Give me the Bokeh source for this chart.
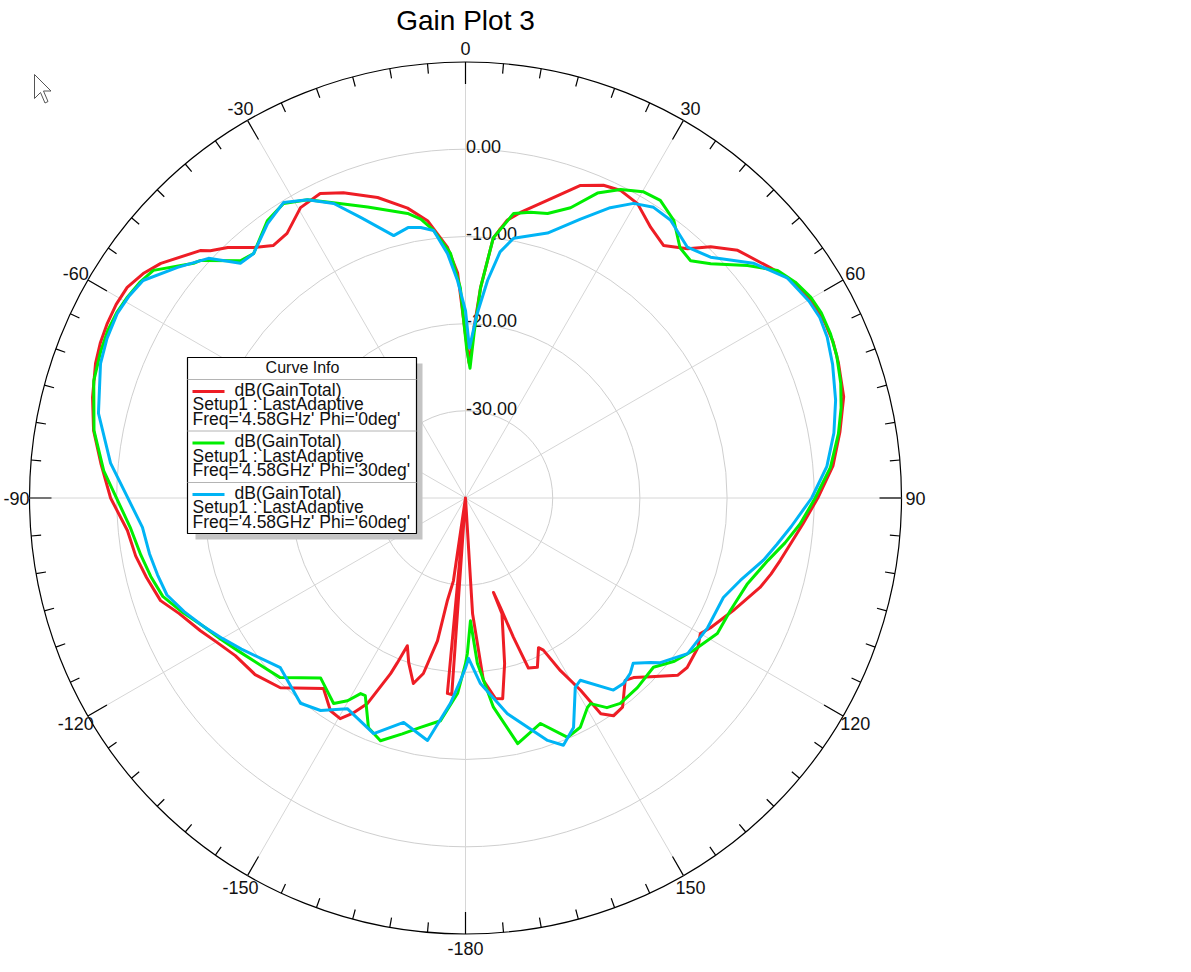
import numpy as np
from bokeh.plotting import figure
from bokeh.models import Range1d
from bokeh.core.properties import value
from bokeh.embed import file_html
from bokeh.resources import INLINE

# ---------------- data (angle in deg, gain in dB) ----------------
red_theta = [-180, -178, -176, -174.7, -173.2, -171.7, -170, -168.9, -166.5, -164.3, -161, -158.5, -157.5,
             -156.9, -154.5, -152.3, -150.4, -147.6, -143.3, -135.7, -130, -124.4, -120, -116.6, -112,
             -108.6, -104, -100, -95.5, -90, -84.6, -79.7, -74.9, -70, -67, -64, -61, -58.1, -55,
             -52.4, -47, -45.9, -43.5,
             -40.2, -37.3, -34, -29.6, -25.5, -21.8, -16.3, -11.3, -7.8, -4.1, -2, -0.6, 1.5, 3,
             4.1, 6.1, 8.5, 10.9, 16.3, 20.2, 23.8, 26.8, 30.3, 34.4, 38.1, 41.7, 44.3, 47.7, 52.9,
             55.5, 58, 61, 64, 67, 70, 75, 80, 85, 90, 94.4, 97.5, 101.2, 104, 106.9, 112.8, 117.9,
             120, 122.8, 127.4, 129.9,
             134, 136.9, 138.8, 143.1, 145.8, 147.9, 149.1, 151.2, 152.9, 154, 157, 159.7, 161,
             162.3, 163.5, 162.5, 166.7, 169.5, 171.5, 174.4, 176.5, 178, 180]
red_db = [-40, -40, -17.4, -17.5, -40, -30.4, -28.1, -23.3, -19.3, -17.9, -20, -21.8, -19.5,
          -18.1, -13.9, -12.1, -10.9, -11.1, -12.75, -9.6, -8.5, -8.0, -7.0, -6.0, -4.6,
          -3.1, -2.3, -1.6, -1.05, 0.7, 2.0, 3.35, 4.3, 5.15, 5.5, 5.7, 5.8, 5.7, 5.0,
          4.1, 1.6, 0.75, -0.4,
          -2.4, -3.6, -3.4, -1.7, -1.3, -2.3, -4.1, -6.1, -7.9, -11.2, -14.2, -19.6, -24.5, -20,
          -15.8, -10.0, -7.8, -6.65, -4.1, -1.8, -0.8, -0.5, -0.9, -2.4, -3.2, -1.7, 0.25, 2.2, 3.8,
          4.7, 5.3, 5.7, 5.85, 5.8, 5.5, 4.9, 3.6, 2.3, 0.4, -1.2, -2.2, -3.2, -3.9, -4.7, -6.7, -8.2,
          -8.9, -8.3, -8.0, -8.3,
          -10.5, -11.8, -12.2, -10.0, -9.8, -10.8, -14.3, -17.4, -20.4, -20.9, -18.9, -19.2, -23.1,
          -26.8, -28.7, -26.1, -20.5, -16.6, -16.75, -19.0, -26.7, -40, -40]

green_theta = [-180, -177.7, -173.6, -168.9, -165, -160.7, -157.1, -153.1, -151.8, -149.8, -147.3,
               -141.2, -134.1, -130, -124, -120, -116, -112, -108, -104, -100, -95, -85.7, -79.7, -72.5,
               -68, -64.9, -62, -59.3, -56.5,
               -53.9, -49.2, -48.1, -43.5, -40.9, -35.5, -31.7, -27.9, -24.1, -18.6, -11.5, -9.1,
               -6.8, -3.5, -1.4, -0.6, 0.5, 2, 3, 4.1, 6.1, 9.6, 12.8, 16.1, 19.9, 23.4, 26.7, 30.1,
               33.2, 36.9, 40.6, 43.5, 46.3, 50.5, 53.9, 56.8, 59.8, 62.5, 65.7, 69, 73, 76.5, 80.2, 85.2,
               90, 94.4, 98, 101.7,
               106.9, 113, 118.3, 123.8, 128, 132, 137.8, 143, 146, 148.7, 149.8, 153.4, 156.9,
               161.6, 168, 172.4, 175.9, 177.7, 179.3, 180]
green_db = [-21, -17.6, -14.3, -13.2, -12, -10.5, -11.4, -14.6, -14.55, -13.1, -12.0,
            -13.5, -10.4, -9.8, -8.6, -7.6, -6.5, -5.0, -3.5, -2.8, -2.2, -1.4, 1.6, 3.3, 4.7,
            5.1, 5.3, 5.3, 5.1, 4.8,
            4.3, 1.2, 0.8, -2.5, -2.9, -0.9, -0.3, -1.3, -2.9, -4.8, -6.7, -7.6,
            -9.1, -11.9, -15.9, -19.6, -23, -25.1, -21, -15.8, -10.0, -6.9, -6.4, -6.05, -4.6, -1.9, -0.4, 0.6,
            0.8, -0.2, -2.2, -2.5, -1.1, 1.9, 4.3, 5.2, 5.8, 6.0, 5.9, 5.6, 5.0, 4.3, 3.4, 2.0,
            0.1, -1.5, -3.0, -4.6,
            -6.2, -7.0, -7.2, -8.55, -9.6, -11.0, -10.65, -10.5, -11, -12.4, -12.2, -10.6, -10.15,
            -12.75, -11.2, -15.8, -21.0, -25.9, -22.2, -21]

blue_theta = [-180, -178.4, -175.8, -171.1, -164.6, -158.7, -150.7, -145.7, -141.2, -132.5, -124,
              -120, -116, -112, -108, -104, -100, -95.2, -84.4, -77, -69.8, -66, -62.1, -59, -56,
              -51.3, -47, -43.8, -40.9, -35.8,
              -31.6, -27.9, -24.1, -20.5, -15.3, -12, -9.4, -6.8, -4.2, -2.1, 0, 1.5, 3.5, 5.8, 8,
              10.5, 17.2, 22.4, 26.5, 29.7, 32.9, 36.4, 41.5, 45.5, 50.8, 55.6, 60.2, 63, 66, 70,
              75.2, 80, 85, 90, 95, 98.5, 101.8, 106.7, 111.1, 118.2, 125, 130.2, 131.6, 134.6,
              136.8, 139.6, 142.4,
              147.8, 149.9, 154.8, 158.4, 161.3, 169, 175.4, 178.9, 180]
blue_db = [-20.5, -19.05, -16.4, -11.85, -13.3, -11.0, -12.3, -10.5, -9.8, -11.2, -9.0,
           -7.8, -6.5, -5.2, -4.0, -3.6, -3.2, -2.8, 0.9, 3.2, 4.6, 5.0, 5.2, 5.0, 4.6,
           2.3, 0.3, -2.7, -2.9, -1.2,
           -0.2, -1.3, -3.0, -5.65, -8.8, -8.3, -8.55, -9.1, -11.9, -15.05, -18.5, -22.8, -19, -14.9, -11.5,
           -9.7, -8.2, -5.4, -2.8, -1.1, -0.3, -0.4, -1.6, -0.6, 2.6, 4.7, 5.4, 5.6, 5.4, 4.8,
           3.9, 2.9, 1.6, -0.3, -2.5, -3.9, -5.1, -7.1, -8.3, -8.5, -8.9, -10.75, -11.6, -13.0,
           -12.4, -12.05, -12.2,
           -15.3, -14.9, -10.9, -9.5, -10.65, -14.8, -18.65, -21.6, -20.5]

series_names = ["dB(GainTotal)", "dB(GainTotal)", "dB(GainTotal)"]
series_setup = ["Setup1 : LastAdaptive"] * 3
series_freq = ["Freq='4.58GHz' Phi='0deg'", "Freq='4.58GHz' Phi='30deg'", "Freq='4.58GHz' Phi='60deg'"]
series_colors = ["#ee1d25", "#00ee00", "#00b4f5"]

ring_db = [0, -10, -20, -30]
ring_labels = ["0.00", "-10.00", "-20.00", "-30.00"]
angle_ticks = [0, 30, 60, 90, 120, 150, 180, 210, 240, 270, 300, 330]
angle_labels = ["0", "30", "60", "90", "120", "150", "-180", "-150", "-120", "-90", "-60", "-30"]

DB_MIN, DB_MAX = -40.0, 10.0
RMAX = DB_MAX - DB_MIN

# ---------------- figure ----------------
PX = 8.72            # pixels per dB
W, H = 1185, 966
CX, CY = 465, 497.5  # center in figure pixels
p = figure(width=W, height=H, output_backend="svg", toolbar_location=None,
           x_range=Range1d(-CX / PX, (W - CX) / PX), y_range=Range1d((CY - H) / PX, CY / PX),
           min_border=0, outline_line_color=None)
p.axis.visible = False
p.grid.visible = False
p.background_fill_color = "white"
p.border_fill_color = "white"

FONT = value("Liberation Sans")

def pol(theta_deg, db):
    th = np.radians(np.asarray(theta_deg, dtype=float))
    r = np.clip(np.asarray(db, dtype=float) - DB_MIN, 0, None)
    return r * np.sin(th), r * np.cos(th)

def pg(px, py):
    # picture pixel -> data coordinates (for decorations)
    return (px - CX) / PX, (CY - py) / PX

# rings
for d in ring_db:
    r = d - DB_MIN
    p.circle(x=[0], y=[0], radius=r, fill_color=None, line_color="#cfcfcf", line_width=1)
p.circle(x=[0], y=[0], radius=RMAX, fill_color=None, line_color="black", line_width=1.2)

# spokes
sx, sy = pol(angle_ticks, [DB_MAX] * len(angle_ticks))
p.segment(x0=[0] * len(sx), y0=[0] * len(sy), x1=sx, y1=sy, line_color="#d6d6d6", line_width=1)

# ticks every 5 deg
tk = np.arange(0, 360, 5)
major = (tk % 30 == 0)
tlen = np.where(major, 22 / PX, 10 / PX)
ox, oy = pol(tk, [DB_MAX] * len(tk))
ix, iy = pol(tk, DB_MAX - tlen)
p.segment(x0=ox, y0=oy, x1=ix, y1=iy, line_color="black", line_width=1.2)

# angle labels
lx, ly = pol(angle_ticks, [DB_MAX + 450 / PX - RMAX] * len(angle_ticks))
lx = np.maximum(lx, pg(16, 0)[0])
p.text(x=lx, y=ly, text=angle_labels, text_align="center", text_baseline="middle",
       text_font=FONT, text_font_size="18px", text_color="#111111")

# radial labels
p.text(x=[0.05] * len(ring_db), y=[d - DB_MIN + 0.3 for d in ring_db], text=ring_labels,
       text_align="left", text_baseline="middle", text_font=FONT, text_font_size="18px",
       text_color="#111111")

# curves
for th, db, c in [(red_theta, red_db, series_colors[0]), (green_theta, green_db, series_colors[1]),
                  (blue_theta, blue_db, series_colors[2])]:
    x, y = pol(th, db)
    p.line(x=x, y=y, line_color=c, line_width=3, line_join="round")

# title
tx, ty = pg(465, 20)
p.text(x=[tx], y=[ty], text=["Gain Plot 3"], text_align="center", text_baseline="middle",
       text_font=FONT, text_font_size="28px", text_color="black")

# mouse pointer seen in the screenshot
cur = [(0, 0), (0, 24), (6, 18), (10.5, 28.5), (13.5, 27), (9, 16.5), (16.5, 16.5)]
cxs = [pg(34 + a, 74 + b)[0] for a, b in cur]
cys = [pg(34 + a, 74 + b)[1] for a, b in cur]
p.patch(x=cxs, y=cys, fill_color="white", line_color="#555555", line_width=1)

# legend box ("Curve Info")
l0, t0 = pg(195, 363); r0, b0 = pg(422, 539)
p.quad(left=[l0], right=[r0], top=[t0], bottom=[b0], fill_color="#c4c4c4", line_color=None)
l1, t1 = pg(187, 357); r1, b1 = pg(416, 533)
p.quad(left=[l1], right=[r1], top=[t1], bottom=[b1], fill_color="white", line_color="black", line_width=1.2)
hx, hy = pg(302, 367)
p.text(x=[hx], y=[hy], text=["Curve Info"], text_align="center", text_baseline="middle",
       text_font=FONT, text_font_size="16px", text_color="#111111")
for i, (c, nm, st, fq) in enumerate(zip(series_colors, series_names, series_setup, series_freq)):
    base = 379 + i * 51.5
    dx0, dy0 = pg(187, base); dx1, _ = pg(416, base)
    p.segment(x0=[dx0], y0=[dy0], x1=[dx1], y1=[dy0], line_color="#b4b4b4", line_width=1)
    a0, ay = pg(192, base + 12); a1, _ = pg(224, base + 12)
    p.segment(x0=[a0], y0=[ay], x1=[a1], y1=[ay], line_color=c, line_width=3)
    nx, ny = pg(234, base + 10)
    p.text(x=[nx], y=[ny], text=[nm], text_align="left", text_baseline="middle",
           text_font=FONT, text_font_size="17.5px", text_color="#111111")
    sx0, sy0 = pg(192, base + 24.5)
    p.text(x=[sx0], y=[sy0], text=[st], text_align="left", text_baseline="middle",
           text_font=FONT, text_font_size="17.5px", text_color="#111111")
    fx0, fy0 = pg(192, base + 39)
    p.text(x=[fx0], y=[fy0], text=[fq], text_align="left", text_baseline="middle",
           text_font=FONT, text_font_size="17.5px", text_color="#111111")

open("out.html", "w").write(file_html(p, INLINE))
